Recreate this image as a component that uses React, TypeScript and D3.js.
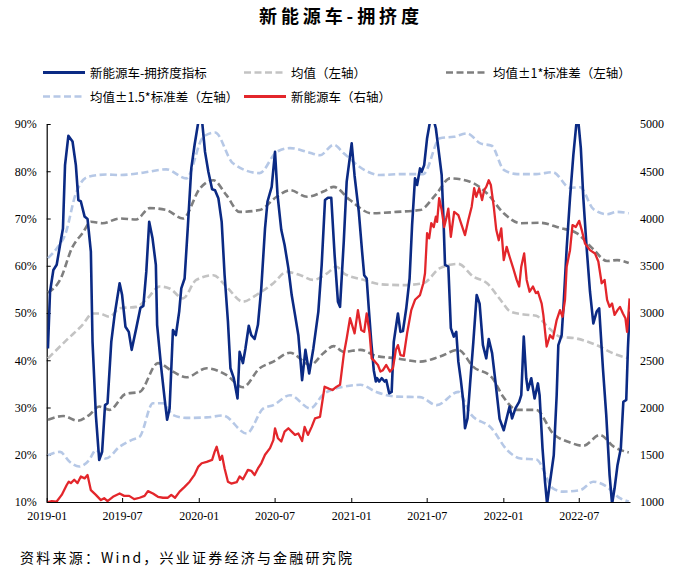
import React, { useEffect, useRef } from "react";
import * as d3 from "d3";

// chart data
const leftTicks = [10, 20, 30, 40, 50, 60, 70, 80, 90];
const rightTicks = [1000, 1500, 2000, 2500, 3000, 3500, 4000, 4500, 5000];
const xTickLabels = ["2019-01", "2019-07", "2020-01", "2020-07", "2021-01", "2021-07", "2022-01", "2022-07"];

// 新能源车-拥挤度指标 (%)
const crowdIndex: [string, number][] = [
  ["2019-01-04", 42.5], ["2019-01-09", 54.5], ["2019-01-17", 59.1], ["2019-01-25", 60.2], ["2019-02-02", 64.4],
  ["2019-02-09", 67.9], ["2019-02-14", 81.3], ["2019-02-22", 87.5], ["2019-03-04", 86.3], ["2019-03-12", 81.3],
  ["2019-03-18", 73.9], ["2019-03-24", 73.6], ["2019-04-02", 70.4], ["2019-04-09", 69.9], ["2019-04-17", 63.0],
  ["2019-04-21", 43.9], ["2019-04-29", 28.4], ["2019-05-07", 18.9], ["2019-05-14", 20.6], ["2019-05-21", 30.5],
  ["2019-05-27", 30.9], ["2019-06-05", 43.9], ["2019-06-13", 49.6], ["2019-06-25", 56.3], ["2019-07-01", 53.8],
  ["2019-07-09", 47.1], ["2019-07-17", 46.0], ["2019-07-24", 42.2], ["2019-08-04", 46.8], ["2019-08-14", 51.1],
  ["2019-08-21", 51.5], ["2019-08-28", 58.7], ["2019-09-04", 69.3], ["2019-09-12", 65.8], ["2019-09-20", 60.2],
  ["2019-09-23", 47.5], ["2019-10-03", 38.3], ["2019-10-11", 31.9], ["2019-10-17", 27.4], ["2019-10-23", 29.8],
  ["2019-10-31", 46.4], ["2019-11-07", 45.3], ["2019-11-15", 50.3], ["2019-11-20", 55.2], ["2019-11-28", 57.3],
  ["2019-12-06", 68.6], ["2019-12-14", 80.6], ["2019-12-22", 85.6], ["2019-12-31", 90.5], ["2020-01-08", 91.5],
  ["2020-01-16", 84.1], ["2020-01-24", 79.9], ["2020-02-02", 76.2], ["2020-02-09", 76.0], ["2020-02-17", 74.3],
  ["2020-02-25", 69.3], ["2020-03-03", 58.0], ["2020-03-11", 48.2], ["2020-03-17", 38.3], ["2020-03-25", 36.2],
  ["2020-04-03", 31.9], ["2020-04-08", 41.8], ["2020-04-16", 39.4], ["2020-04-22", 42.5], ["2020-04-30", 47.3],
  ["2020-05-06", 45.3], ["2020-05-14", 44.5], ["2020-05-22", 47.5], ["2020-05-30", 55.2], ["2020-06-08", 67.9],
  ["2020-06-14", 73.6], ["2020-06-24", 76.7], ["2020-07-02", 84.1], ["2020-07-08", 75.0], ["2020-07-17", 67.6],
  ["2020-07-25", 64.4], ["2020-08-03", 59.5], ["2020-08-11", 53.8], ["2020-08-19", 49.6], ["2020-08-27", 45.3],
  ["2020-09-05", 35.8], ["2020-09-13", 42.2], ["2020-09-22", 37.2], ["2020-10-02", 42.5], ["2020-10-14", 50.3],
  ["2020-10-22", 60.2], ["2020-10-30", 73.9], ["2020-11-06", 74.4], ["2020-11-14", 74.4], ["2020-11-22", 62.3],
  ["2020-11-30", 52.4], ["2020-12-05", 51.3], ["2020-12-14", 65.1], ["2020-12-21", 77.8], ["2021-01-02", 85.9],
  ["2021-01-09", 79.0], ["2021-01-19", 71.5], ["2021-01-27", 63.0], ["2021-02-01", 58.0], ["2021-02-07", 57.3],
  ["2021-02-12", 51.0], ["2021-02-18", 43.9], ["2021-02-24", 37.9], ["2021-03-01", 35.5], ["2021-03-04", 36.2],
  ["2021-03-09", 35.5], ["2021-03-15", 36.2], ["2021-03-22", 35.5], ["2021-03-26", 35.8], ["2021-04-02", 33.0],
  ["2021-04-08", 33.3], ["2021-04-13", 43.9], ["2021-04-23", 49.9], ["2021-04-29", 46.0], ["2021-05-05", 46.2],
  ["2021-05-13", 51.0], ["2021-05-21", 57.3], ["2021-05-27", 68.6], ["2021-06-03", 78.5], ["2021-06-08", 77.1],
  ["2021-06-15", 80.6], ["2021-06-19", 79.9], ["2021-06-25", 81.3], ["2021-07-02", 87.0], ["2021-07-09", 90.5],
  ["2021-07-16", 91.5], ["2021-07-23", 89.1], ["2021-07-29", 84.9], ["2021-08-06", 79.2], ["2021-08-10", 70.7],
  ["2021-08-14", 60.2], ["2021-08-22", 59.8], ["2021-08-28", 46.8], ["2021-09-04", 45.0], ["2021-09-10", 46.0],
  ["2021-09-15", 39.7], ["2021-09-21", 35.8], ["2021-09-27", 31.2], ["2021-10-01", 25.6], ["2021-10-07", 27.7],
  ["2021-10-13", 34.8], ["2021-10-21", 43.9], ["2021-10-29", 53.8], ["2021-11-05", 52.0], ["2021-11-13", 43.2],
  ["2021-11-21", 40.4], ["2021-11-27", 44.5], ["2021-12-05", 41.5], ["2021-12-13", 35.5], ["2021-12-23", 27.6],
  ["2022-01-02", 25.2], ["2022-01-10", 28.1], ["2022-01-16", 30.2], ["2022-01-22", 27.7], ["2022-01-30", 29.8],
  ["2022-02-08", 31.2], ["2022-02-13", 32.6], ["2022-02-19", 45.0], ["2022-02-25", 36.2], ["2022-03-01", 33.7],
  ["2022-03-09", 36.2], ["2022-03-17", 31.9], ["2022-03-25", 35.1], ["2022-03-29", 32.6], ["2022-04-05", 21.4],
  ["2022-04-11", 14.3], ["2022-04-16", 9.6], ["2022-04-22", 13.6], ["2022-05-02", 19.9], ["2022-05-09", 32.6],
  ["2022-05-13", 43.2], ["2022-05-21", 45.3], ["2022-05-26", 52.4], ["2022-06-02", 63.7], ["2022-06-10", 74.3],
  ["2022-06-18", 83.4], ["2022-06-25", 89.8], ["2022-06-29", 91.5], ["2022-07-06", 84.9], ["2022-07-12", 74.3],
  ["2022-07-20", 63.7], ["2022-07-28", 54.5], ["2022-08-05", 47.8], ["2022-08-13", 50.3], ["2022-08-19", 51.0],
  ["2022-08-28", 38.3], ["2022-09-05", 28.4], ["2022-09-13", 15.7], ["2022-09-19", 9.6], ["2022-09-25", 12.9],
  ["2022-10-02", 17.8], ["2022-10-10", 21.4], ["2022-10-16", 31.2], ["2022-10-23", 31.6], ["2022-10-27", 42.5],
  ["2022-10-31", 50.3],
];

// 新能源车 (right axis)
const nevIndex: [string, number][] = [
  ["2019-01-04", 1000], ["2019-01-13", 1010], ["2019-01-25", 1005], ["2019-02-06", 1075], ["2019-02-18", 1180],
  ["2019-02-23", 1215], ["2019-02-28", 1200], ["2019-03-08", 1235], ["2019-03-16", 1200], ["2019-03-24", 1270],
  ["2019-04-02", 1250], ["2019-04-09", 1285], ["2019-04-17", 1125], ["2019-04-29", 1075], ["2019-05-11", 1020],
  ["2019-05-19", 1040], ["2019-05-27", 1010], ["2019-06-09", 1055], ["2019-06-25", 1090], ["2019-07-06", 1065],
  ["2019-07-18", 1065], ["2019-07-30", 1030], ["2019-08-12", 1045], ["2019-08-24", 1065], ["2019-09-01", 1115],
  ["2019-09-13", 1090], ["2019-09-25", 1055], ["2019-10-07", 1045], ["2019-10-19", 1045], ["2019-10-27", 1075],
  ["2019-11-05", 1045], ["2019-11-16", 1110], ["2019-11-28", 1160], ["2019-12-10", 1215], ["2019-12-22", 1290],
  ["2019-12-31", 1375], ["2020-01-08", 1410], ["2020-01-20", 1425], ["2020-02-02", 1445], ["2020-02-08", 1530],
  ["2020-02-13", 1585], ["2020-02-21", 1445], ["2020-02-26", 1490], ["2020-03-03", 1355], ["2020-03-11", 1215],
  ["2020-03-19", 1195], ["2020-04-01", 1210], ["2020-04-08", 1270], ["2020-04-16", 1240], ["2020-04-28", 1340],
  ["2020-05-06", 1330], ["2020-05-14", 1285], ["2020-05-22", 1355], ["2020-05-30", 1410], ["2020-06-08", 1500],
  ["2020-06-20", 1570], ["2020-06-28", 1655], ["2020-07-02", 1780], ["2020-07-09", 1675], ["2020-07-17", 1640],
  ["2020-07-25", 1745], ["2020-08-03", 1780], ["2020-08-11", 1745], ["2020-08-19", 1710], ["2020-08-27", 1725],
  ["2020-09-05", 1645], ["2020-09-11", 1795], ["2020-09-19", 1710], ["2020-09-28", 1795], ["2020-10-06", 1885],
  ["2020-10-18", 1900], ["2020-10-29", 2220], ["2020-11-08", 2200], ["2020-11-17", 2185], ["2020-11-27", 2220],
  ["2020-12-05", 2240], ["2020-12-14", 2560], ["2020-12-21", 2730], ["2020-12-29", 2945], ["2021-01-09", 2785],
  ["2021-01-17", 3030], ["2021-01-25", 2820], ["2021-02-01", 2800], ["2021-02-07", 2995], ["2021-02-14", 2785],
  ["2021-02-19", 2520], ["2021-02-27", 2485], ["2021-03-06", 2450], ["2021-03-12", 2380], ["2021-03-18", 2395],
  ["2021-03-26", 2450], ["2021-04-04", 2380], ["2021-04-11", 2415], ["2021-04-18", 2610], ["2021-04-23", 2660],
  ["2021-04-29", 2555], ["2021-05-07", 2545], ["2021-05-15", 2785], ["2021-05-25", 3030], ["2021-06-03", 3140],
  ["2021-06-15", 3190], ["2021-06-23", 3315], ["2021-06-27", 3420], ["2021-07-02", 3845], ["2021-07-07", 3790],
  ["2021-07-12", 3950], ["2021-07-18", 3910], ["2021-07-23", 4020], ["2021-07-26", 3965], ["2021-07-31", 4215],
  ["2021-08-06", 4090], ["2021-08-12", 3910], ["2021-08-18", 4020], ["2021-08-22", 4105], ["2021-08-28", 3805],
  ["2021-09-05", 4070], ["2021-09-15", 4035], ["2021-09-23", 3930], ["2021-10-01", 3825], ["2021-10-09", 3985],
  ["2021-10-17", 4125], ["2021-10-23", 4320], ["2021-10-28", 4230], ["2021-11-04", 4320], ["2021-11-11", 4195],
  ["2021-11-16", 4300], ["2021-11-21", 4335], ["2021-11-27", 4405], ["2021-12-02", 4355], ["2021-12-09", 4125],
  ["2021-12-15", 3880], ["2021-12-21", 3770], ["2021-12-27", 3895], ["2022-01-02", 3560], ["2022-01-09", 3700],
  ["2022-01-16", 3595], ["2022-01-25", 3470], ["2022-02-02", 3350], ["2022-02-08", 3280], ["2022-02-13", 3490],
  ["2022-02-20", 3630], ["2022-02-26", 3350], ["2022-03-05", 3225], ["2022-03-13", 3280], ["2022-03-20", 3210],
  ["2022-03-25", 3225], ["2022-04-03", 3100], ["2022-04-07", 2980], ["2022-04-15", 2645], ["2022-04-23", 2765],
  ["2022-04-30", 2730], ["2022-05-09", 2925], ["2022-05-17", 3030], ["2022-05-23", 2960], ["2022-05-29", 3140],
  ["2022-06-02", 3490], ["2022-06-10", 3665], ["2022-06-16", 3930], ["2022-06-24", 3910], ["2022-07-02", 3975],
  ["2022-07-08", 3880], ["2022-07-16", 3735], ["2022-07-28", 3665], ["2022-08-09", 3630], ["2022-08-17", 3545],
  ["2022-08-25", 3315], ["2022-09-01", 3350], ["2022-09-07", 3140], ["2022-09-13", 3065], ["2022-09-19", 3100],
  ["2022-09-25", 2980], ["2022-10-02", 3030], ["2022-10-08", 3065], ["2022-10-15", 2995], ["2022-10-21", 2945],
  ["2022-10-25", 2800], ["2022-10-31", 3155],
];

// 均值 (%)
const meanLine: [string, number][] = [
  ["2019-01-04", 40.4], ["2019-02-18", 44.3], ["2019-03-28", 47.5], ["2019-04-21", 49.9], ["2019-05-07", 49.9],
  ["2019-06-01", 49.2], ["2019-06-25", 51.0], ["2019-08-04", 51.3], ["2019-08-28", 52.8], ["2019-09-29", 55.6],
  ["2019-10-23", 55.2], ["2019-11-24", 53.1], ["2019-12-26", 57.0], ["2020-02-05", 58.0], ["2020-03-07", 55.6],
  ["2020-04-16", 52.4], ["2020-05-18", 53.8], ["2020-06-28", 56.3], ["2020-07-30", 58.7], ["2020-09-01", 58.0],
  ["2020-10-02", 57.0], ["2020-11-04", 58.4], ["2020-11-27", 59.8], ["2020-12-14", 58.4], ["2021-02-01", 57.0],
  ["2021-03-10", 56.1], ["2021-05-05", 55.9], ["2021-06-23", 56.3], ["2021-08-02", 59.5], ["2021-09-15", 60.4],
  ["2021-10-21", 57.7], ["2021-11-23", 56.3], ["2021-12-25", 52.8], ["2022-01-18", 50.3], ["2022-02-19", 49.7],
  ["2022-03-21", 49.4], ["2022-04-15", 47.3], ["2022-05-17", 45.0], ["2022-06-26", 44.6], ["2022-08-13", 43.2],
  ["2022-09-23", 41.4], ["2022-10-29", 40.4],
];

// 均值+1*标准差 (%)
const upper1: [string, number][] = [
  ["2019-01-04", 54.3], ["2019-02-02", 57.0], ["2019-03-04", 64.0], ["2019-03-28", 66.9], ["2019-04-17", 69.3],
  ["2019-05-15", 69.0], ["2019-06-25", 70.0], ["2019-08-04", 69.8], ["2019-09-05", 72.2], ["2019-10-15", 71.8],
  ["2019-11-24", 70.0], ["2020-01-04", 76.4], ["2020-02-05", 78.1], ["2020-03-07", 75.0], ["2020-04-08", 71.4],
  ["2020-05-26", 71.8], ["2020-07-06", 74.6], ["2020-08-07", 76.0], ["2020-09-17", 74.6], ["2020-10-26", 75.7],
  ["2020-11-20", 76.7], ["2020-12-29", 73.9], ["2021-02-19", 71.1], ["2021-04-20", 71.4], ["2021-06-15", 71.8],
  ["2021-07-25", 75.3], ["2021-08-26", 78.5], ["2021-10-13", 77.8], ["2021-11-23", 75.3], ["2022-01-02", 71.1],
  ["2022-02-12", 69.0], ["2022-03-29", 69.1], ["2022-05-17", 68.0], ["2022-06-26", 66.9], ["2022-08-05", 63.5],
  ["2022-09-07", 61.0], ["2022-10-01", 61.2], ["2022-10-29", 60.6],
];

// 均值-1*标准差 (%)
const lower1: [string, number][] = [
  ["2019-01-04", 27.4], ["2019-02-10", 28.2], ["2019-03-16", 27.2], ["2019-04-13", 28.4], ["2019-05-07", 30.2],
  ["2019-06-01", 29.5], ["2019-07-10", 32.9], ["2019-08-12", 33.3], ["2019-09-25", 39.4], ["2019-10-31", 37.6],
  ["2019-12-02", 36.4], ["2020-01-20", 38.3], ["2020-03-07", 36.9], ["2020-04-16", 34.3], ["2020-05-26", 38.3],
  ["2020-06-28", 39.7], ["2020-08-07", 41.6], ["2020-09-25", 39.0], ["2020-10-26", 41.5], ["2020-11-20", 43.0],
  ["2020-12-14", 41.8], ["2021-01-23", 42.2], ["2021-03-02", 40.9], ["2021-04-20", 40.4], ["2021-06-15", 39.7],
  ["2021-08-02", 40.8], ["2021-09-15", 42.2], ["2021-10-21", 38.6], ["2021-12-04", 36.4], ["2022-01-02", 32.1],
  ["2022-02-03", 29.5], ["2022-03-21", 29.5], ["2022-04-30", 24.5], ["2022-06-10", 22.6], ["2022-07-12", 21.9],
  ["2022-08-21", 24.2], ["2022-09-23", 21.7], ["2022-10-29", 20.5],
];

// 均值+1.5*标准差 (%)
const upper15: [string, number][] = [
  ["2019-01-04", 61.6], ["2019-01-28", 64.0], ["2019-02-14", 66.5], ["2019-03-12", 75.3], ["2019-04-09", 78.8],
  ["2019-05-23", 79.3], ["2019-06-25", 79.2], ["2019-08-20", 79.7], ["2019-10-15", 80.4], ["2019-12-02", 78.5],
  ["2020-01-12", 87.3], ["2020-02-09", 88.2], ["2020-03-23", 81.7], ["2020-05-26", 79.6], ["2020-07-06", 84.1],
  ["2020-08-07", 84.9], ["2020-09-17", 84.1], ["2020-10-18", 83.4], ["2020-11-20", 85.6], ["2020-12-14", 83.8],
  ["2021-02-01", 80.3], ["2021-03-10", 79.2], ["2021-05-05", 79.4], ["2021-06-23", 79.4], ["2021-08-02", 87.0],
  ["2021-09-04", 87.3], ["2021-10-06", 88.0], ["2021-11-07", 85.9], ["2021-12-04", 85.4], ["2022-01-02", 80.3],
  ["2022-02-03", 79.4], ["2022-03-21", 79.4], ["2022-04-30", 79.8], ["2022-06-10", 76.5], ["2022-07-04", 76.6],
  ["2022-08-05", 72.0], ["2022-09-07", 70.9], ["2022-10-01", 71.4], ["2022-10-29", 71.1],
];

// 均值-1.5*标准差 (%)
const lower15: [string, number][] = [
  ["2019-01-04", 19.9], ["2019-02-02", 20.6], ["2019-02-25", 18.5], ["2019-03-20", 17.5], ["2019-04-13", 18.9],
  ["2019-04-29", 21.0], ["2019-05-23", 19.2], ["2019-06-25", 21.7], ["2019-07-26", 23.2], ["2019-08-12", 23.8],
  ["2019-09-13", 30.9], ["2019-10-07", 30.9], ["2019-10-31", 28.4], ["2019-12-02", 27.8], ["2020-01-20", 27.9],
  ["2020-02-28", 28.3], ["2020-04-25", 24.5], ["2020-06-04", 29.8], ["2020-06-28", 30.5], ["2020-08-07", 32.6],
  ["2020-09-25", 29.8], ["2020-10-26", 32.8], ["2020-11-20", 33.9], ["2020-12-14", 34.4], ["2021-01-23", 34.8],
  ["2021-03-02", 33.3], ["2021-04-20", 32.3], ["2021-06-15", 32.2], ["2021-07-25", 30.5], ["2021-09-15", 33.3],
  ["2021-10-13", 28.8], ["2021-12-04", 25.6], ["2022-01-10", 21.0], ["2022-02-12", 19.2], ["2022-03-21", 19.0],
  ["2022-04-30", 12.9], ["2022-05-24", 12.2], ["2022-07-04", 12.5], ["2022-08-05", 14.3], ["2022-09-07", 13.2],
  ["2022-10-08", 10.8], ["2022-10-29", 10.1],
];

const legendRow1 = ["新能源车-拥挤度指标", "均值（左轴）", "均值±1*标准差（左轴）"];
const legendRow2 = ["均值±1.5*标准差（左轴）", "新能源车（右轴）"];

const W = 678;
const H = 577;
const M = { left: 46.7, right: 630, top: 124, bottom: 502 };

const NAVY = "#0b2a84";
const RED = "#e3262b";
const LGRAY = "#c3c3c3";
const DGRAY = "#7f7f7f";
const LBLUE = "#b6c8e6";
const SERIF = "'Liberation Serif', 'Times New Roman', serif";
const CJK = "'Noto Sans CJK SC', sans-serif";

const parse = d3.timeParse("%Y-%m-%d");

export default function App() {
  const ref = useRef<SVGSVGElement>(null);

  useEffect(() => {
    const svg = d3.select(ref.current);
    svg.selectAll("*").remove();

    const x = d3.scaleTime()
      .domain([parse("2019-01-01") as Date, parse("2022-11-01") as Date])
      .range([M.left, M.right]);
    const yL = d3.scaleLinear().domain([10, 90]).range([M.bottom, M.top]);
    const yR = d3.scaleLinear().domain([1000, 5000]).range([M.bottom, M.top]);

    svg.append("rect").attr("width", W).attr("height", H).attr("fill", "#fff");

    svg.append("defs").append("clipPath").attr("id", "plot-clip")
      .append("rect")
      .attr("x", M.left).attr("y", M.top)
      .attr("width", M.right - M.left).attr("height", M.bottom - M.top);

    // title
    svg.append("text")
      .attr("x", W / 2).attr("y", 23)
      .attr("text-anchor", "middle")
      .attr("font-family", CJK).attr("font-weight", 700).attr("font-size", 18)
      .attr("textLength", 160).attr("lengthAdjust", "spacing")
      .text("新能源车-拥挤度");

    // axes
    const axL = svg.append("g")
      .attr("transform", `translate(${M.left},0)`)
      .call(d3.axisLeft(yL).tickValues(leftTicks).tickSizeInner(-4).tickSizeOuter(0).tickPadding(10)
        .tickFormat((d: any) => `${d}%`));
    const axR = svg.append("g")
      .attr("transform", `translate(${M.right},0)`)
      .call(d3.axisRight(yR).tickValues(rightTicks).tickSize(0).tickPadding(10)
        .tickFormat((d: any) => `${d}`));
    axR.select(".domain").remove();
    const axB = svg.append("g")
      .attr("transform", `translate(0,${M.bottom})`)
      .call(d3.axisBottom(x).tickValues(xTickLabels.map(s => parse(s + "-01") as Date))
        .tickSizeInner(-4).tickSizeOuter(0).tickPadding(9)
        .tickFormat((d: any) => d3.timeFormat("%Y-%m")(d)));
    [axL, axR, axB].forEach(g => {
      g.selectAll("text").attr("font-family", SERIF).attr("font-size", 12).attr("fill", "#000");
      g.selectAll("line").attr("stroke", "#000");
      g.select(".domain").attr("stroke", "#000").attr("stroke-width", 1.2);
    });

    const plot = svg.append("g").attr("clip-path", "url(#plot-clip)");

    const lineL = d3.line<[string, number]>()
      .x(d => x(parse(d[0]) as Date))
      .y(d => yL(d[1]));
    const smoothL = d3.line<[string, number]>()
      .x(d => x(parse(d[0]) as Date))
      .y(d => yL(d[1]))
      .curve(d3.curveMonotoneX);
    const lineR = d3.line<[string, number]>()
      .x(d => x(parse(d[0]) as Date))
      .y(d => yR(d[1]));

    const dashed = [
      { data: upper15, color: LBLUE },
      { data: lower15, color: LBLUE },
      { data: upper1, color: DGRAY },
      { data: lower1, color: DGRAY },
      { data: meanLine, color: LGRAY },
    ];
    dashed.forEach(s => {
      plot.append("path")
        .attr("d", smoothL(s.data))
        .attr("fill", "none")
        .attr("stroke", s.color)
        .attr("stroke-width", 2.6)
        .attr("stroke-dasharray", "7,3.5");
    });

    plot.append("path")
      .attr("d", lineL(crowdIndex))
      .attr("fill", "none")
      .attr("stroke", NAVY)
      .attr("stroke-width", 2.6)
      .attr("stroke-linejoin", "round");

    plot.append("path")
      .attr("d", lineR(nevIndex))
      .attr("fill", "none")
      .attr("stroke", RED)
      .attr("stroke-width", 2.3)
      .attr("stroke-linejoin", "round");

    // legend
    const legendItems = [
      { label: legendRow1[0], color: NAVY, dash: null, x: 43, y: 72.5 },
      { label: legendRow1[1], color: LGRAY, dash: "7,3.5", x: 244, y: 72.5 },
      { label: legendRow1[2], color: DGRAY, dash: "7,3.5", x: 446, y: 72.5 },
      { label: legendRow2[0], color: LBLUE, dash: "7,3.5", x: 43, y: 96.5 },
      { label: legendRow2[1], color: RED, dash: null, x: 244, y: 96.5 },
    ];
    const lg = svg.append("g");
    legendItems.forEach(it => {
      lg.append("line")
        .attr("x1", it.x).attr("x2", it.x + 42)
        .attr("y1", it.y).attr("y2", it.y)
        .attr("stroke", it.color)
        .attr("stroke-width", it.dash ? 2.6 : 3.2)
        .attr("stroke-dasharray", it.dash);
      lg.append("text")
        .attr("x", it.x + 47).attr("y", it.y)
        .attr("dominant-baseline", "central")
        .attr("font-family", CJK).attr("font-size", 12.5)
        .attr("fill", "#000")
        .text(it.label);
    });

    // source
    svg.append("text")
      .attr("x", 20).attr("y", 563)
      .attr("font-family", CJK).attr("font-size", 14)
      .attr("textLength", 332).attr("lengthAdjust", "spacing")
      .attr("fill", "#000")
      .text("资料来源：Wind，兴业证券经济与金融研究院");
  }, []);

  return (
    <div style={{ position: "absolute", left: 0, top: 0 }}>
      <svg ref={ref} width={W} height={H} viewBox={`0 0 ${W} ${H}`} />
    </div>
  );
}
